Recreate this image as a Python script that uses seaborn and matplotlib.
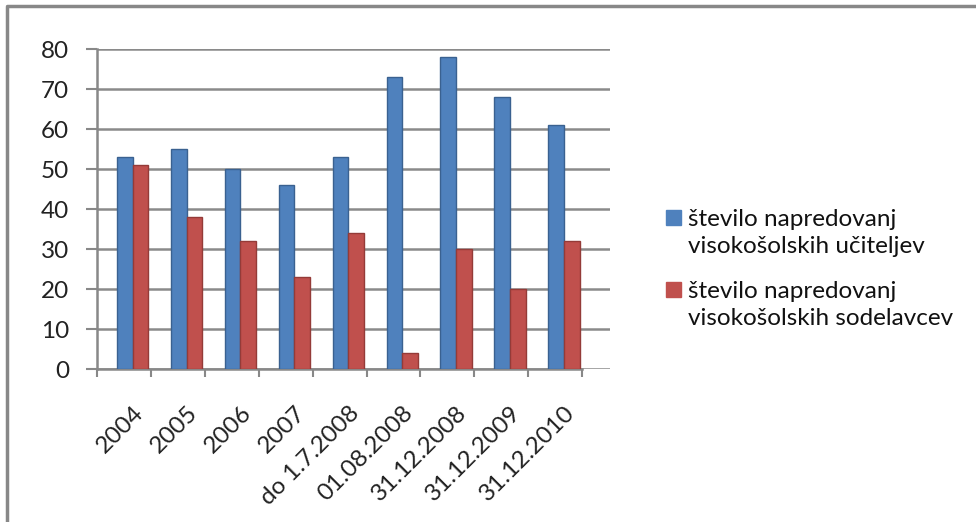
import numpy as np
import pandas as pd
import matplotlib
matplotlib.use("Agg")
import matplotlib.pyplot as plt
import seaborn as sns
from matplotlib.lines import Line2D
from matplotlib.patches import Patch

categories = ["2004", "2005", "2006", "2007", "do 1.7.2008", "01.08.2008",
              "31.12.2008", "31.12.2009", "31.12.2010"]
series_names = ["število napredovanj\nvisokošolskih učiteljev",
                "število napredovanj\nvisokošolskih sodelavcev"]
teachers = [53, 55, 50, 46, 53, 73, 78, 68, 61]
associates = [51, 38, 32, 23, 34, 4, 30, 20, 32]
y_ticks = [0, 10, 20, 30, 40, 50, 60, 70, 80]
colors = ["#4F81BD", "#C0504D"]
edges = ["#3A6190", "#943B38"]

df = pd.DataFrame({
    "cat": categories * 2,
    "val": teachers + associates,
    "series": [series_names[0]] * len(categories) + [series_names[1]] * len(categories),
})

sns.set_theme(style="white")
plt.rcParams['font.family'] = ['Lato', 'DejaVu Sans']

W, H = 976, 522
fig = plt.figure(figsize=(W / 100, H / 100), dpi=100)

def fx(px):
    return px / W

def fy(py):
    return 1 - py / H

ax_left, ax_right = 97, 610
ax_top, ax_bot = 49, 369
ax = fig.add_axes([fx(ax_left), fy(ax_bot), fx(ax_right - ax_left), (ax_bot - ax_top) / H])

sns.barplot(data=df, x="cat", y="val", hue="series", palette=colors, saturation=1,
            width=0.58, ax=ax, legend=False, zorder=3)
for i, cont in enumerate(ax.containers):
    for p in cont:
        p.set_edgecolor(edges[i])
        p.set_linewidth(1.0)

FS = 17.5
shift = 0.662
ax.set_xlim(-shift, 8.855)
ax.set_ylim(0, 80)
ax.set_yticks(y_ticks)
ax.set_yticklabels([str(v) for v in y_ticks], fontsize=FS, color="#222222")
ax.set_xticks(range(len(categories)))
ax.set_xticklabels(categories, rotation=45, ha="right", rotation_mode="anchor",
                   fontsize=FS, color="#222222")
ax.tick_params(axis="x", length=0, pad=24)
ax.tick_params(axis="y", length=8, width=1.5, color="#888888", pad=12, left=True)
ax.set_xticks([i - shift for i in range(len(categories) + 1)], minor=True)
ax.tick_params(axis="x", which="minor", length=6, width=1.5, color="#888888", bottom=True)
ax.set_xlabel("")
ax.set_ylabel("")

ax.grid(axis="y", color="#8a8a8a", linewidth=1.8, zorder=0)
ax.grid(axis="x", visible=False)
for s in ["top", "right"]:
    ax.spines[s].set_visible(False)
ax.spines["left"].set_color("#888888")
ax.spines["left"].set_linewidth(1.8)
ax.spines["bottom"].set_color("#888888")
ax.spines["bottom"].set_linewidth(1.8)
ax.spines["bottom"].set_bounds(-shift, 9 - shift)

# legend: one block per series, square aligned with the first text line
tops = [209, 281]
for name, c, top in zip(series_names, colors, tops):
    first, second = name.split("\n")
    hs = [Patch(facecolor=c, edgecolor=c), Patch(facecolor="none", edgecolor="none")]
    leg = fig.legend(hs, [first, second], loc="upper left",
                     bbox_to_anchor=(fx(666), fy(top)), frameon=False,
                     fontsize=FS, handlelength=0.6, handleheight=0.6,
                     handletextpad=0.3, labelspacing=0.25, borderaxespad=0,
                     borderpad=0)
    for t in leg.get_texts():
        t.set_color("#111111")

fig.add_artist(Line2D([fx(7), fx(7)], [fy(7), 0], color="#888888", linewidth=2.5))
fig.add_artist(Line2D([fx(7), 1], [fy(6), fy(6)], color="#888888", linewidth=2.5))

fig.savefig("out.png", dpi=100)
